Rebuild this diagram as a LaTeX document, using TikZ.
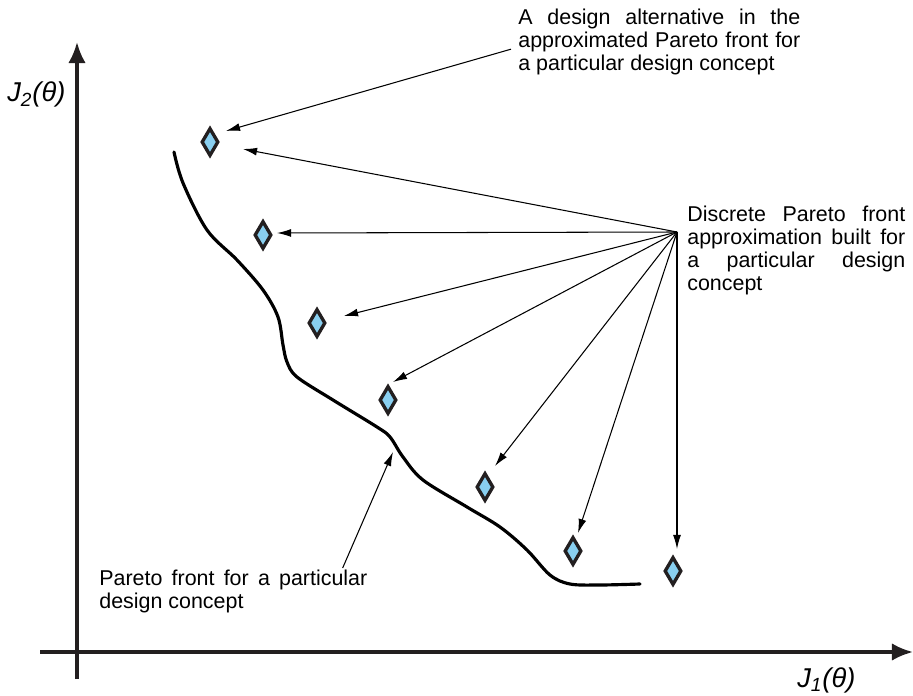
\documentclass[tikz,border=0pt]{standalone}
\usepackage{fontspec}
\setmainfont{Liberation Sans}
\usetikzlibrary{shapes.geometric, arrows.meta}
\definecolor{pointblue}{RGB}{137,207,240}
\definecolor{inkblack}{RGB}{35,31,32}

\begin{document}
\begin{tikzpicture}[
  x=0.02cm, y=-0.02cm,
  paretopt/.style={diamond, draw=inkblack, fill=pointblue, line width=1.9pt, inner sep=0pt,
                   minimum width=0.34cm, minimum height=0.56cm},
  note/.style={anchor=north west, inner sep=0pt, align=justify,
               font=\fontsize{12.2}{13}\selectfont},
  axislabel/.style={anchor=base west, inner sep=0pt, font=\fontsize{15.5}{18}\selectfont\itshape},
  axis/.style={line width=2pt, draw=inkblack, -{Latex[length=12pt, width=10pt]}},
  pointer/.style={line width=0.6pt, -{Latex[length=8pt, width=4.5pt]}},
  front/.style={line width=1.8pt, draw=black, line cap=round, line join=round}
]
  \useasboundingbox (0,0) rectangle (913,696);

  % axes
  \draw[axis] (40,652) -- (913,652);
  \draw[axis] (77,679) -- (77,42);
  \node[axislabel] (j2) at (7,102)  {J\textsubscript{2}(θ)};
  \node[axislabel] (j1) at (797,687) {J\textsubscript{1}(θ)};

  % Pareto front
  \draw[front] plot[smooth, tension=0.55] coordinates {
    (174,152) (183,183) (207,230) (237,260) (263,290) (278,317) (283,345)
    (287,362) (297,377) (333,400) (377,427) (390,437) (403,457) (423,480)
    (467,507) (500,527) (527,550) (550,575) (570,584) (600,585) (640,584)};
  \coordinate (frontpt) at (393,452);

  % discrete approximation
  \node[paretopt] (d1) at (210,142) {};
  \node[paretopt] (d2) at (263,235) {};
  \node[paretopt] (d3) at (317,323) {};
  \node[paretopt] (d4) at (388,400) {};
  \node[paretopt] (d5) at (485,487) {};
  \node[paretopt] (d6) at (573,551) {};
  \node[paretopt] (d7) at (673,571) {};

  % labels
  \node[note, text width=5.64cm] (alttext) at (518,9)
    {A design alternative in the\linebreak approximated Pareto front for\linebreak a particular design concept};
  \node[note, text width=4.36cm] (disctext) at (687,206)
    {Discrete Pareto front\linebreak approximation built for\linebreak a particular design\linebreak concept};
  \node[note, text width=5.36cm] (fronttext) at (99,570)
    {Pareto front for a particular\linebreak design concept};
  \coordinate (hub) at (677,232);

  \draw[pointer] ([shift={(-7,7)}]alttext.west) -- ([shift={(16,-11)}]d1.center);
  \draw[pointer] (hub) -- ([shift={(33,7)}]d1.center);
  \draw[pointer] (hub) -- ([shift={(14,-2)}]d2.center);
  \draw[pointer] (hub) -- ([shift={(27,-7)}]d3.center);
  \draw[pointer] (hub) -- ([shift={(5,-18)}]d4.center);
  \draw[pointer] (hub) -- ([shift={(10,-21)}]d5.center);
  \draw[pointer] (hub) -- ([shift={(5,-18)}]d6.center);
  \draw[pointer] (hub) -- ([shift={(4,-22)}]d7.center);
  \draw[pointer] ([shift={(-25,-2)}]fronttext.north east) -- (frontpt);
\end{tikzpicture}
\end{document}
